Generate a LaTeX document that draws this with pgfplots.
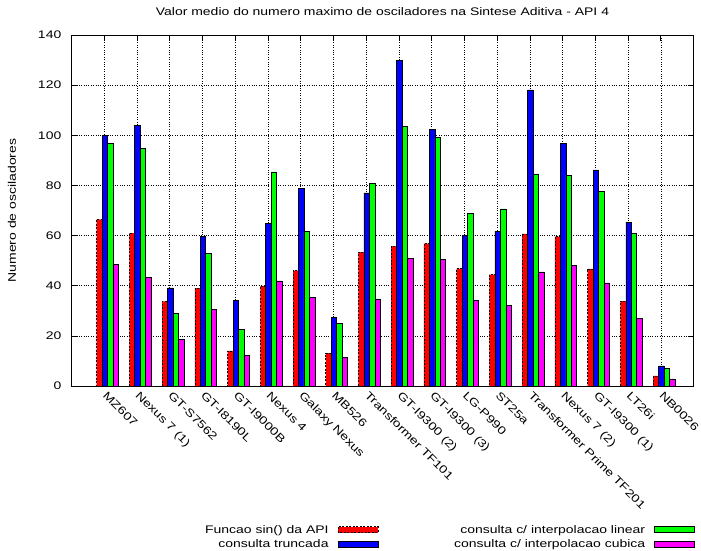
\documentclass[border=0pt]{standalone}
\usepackage{fontspec}
\setmainfont{Liberation Sans}[FakeStretch=1.27]
\usepackage{pgfplots}
\usepackage{pgfplotstable}
\pgfplotsset{compat=1.18}
\definecolor{gpred}{RGB}{255,0,0}
\definecolor{gpblue}{RGB}{0,0,255}
\definecolor{gpgreen}{RGB}{0,255,0}
\definecolor{gpmag}{RGB}{255,0,255}
\pgfplotstableread{
x api trunc lin cub
0 66.5 100.0 96.9 48.4
1 61.0 103.8 94.8 43.4
2 33.8 39.1 29.0 18.6
3 39.0 59.8 52.9 30.6
4 14.0 34.3 22.7 12.2
5 39.9 65.0 85.4 41.9
6 46.0 78.8 61.7 35.5
7 13.1 27.5 25.0 11.3
8 53.4 77.0 80.8 34.4
9 55.8 129.8 103.7 50.9
10 56.8 102.3 99.0 50.4
11 46.8 60.1 69.0 34.2
12 44.4 61.8 70.6 32.3
13 60.7 118.1 84.6 45.5
14 59.6 96.9 84.0 48.0
15 46.7 86.2 77.5 41.1
16 33.9 65.4 60.9 27.1
17 4.0 8.0 7.0 2.8
}\data
\begin{document}
\begin{tikzpicture}[font=\fontsize{11pt}{13pt}\selectfont]
\useasboundingbox (0,0) rectangle (701pt,550pt);
\begin{axis}[
  at={(71.5pt,164pt)}, anchor=south west,
  scale only axis, width=622pt, height=351pt,
  xmin=-1, xmax=18, ymin=0, ymax=140,
  ytick={0,20,...,140},
  xtick={0,...,17},
  xticklabels={MZ607,Nexus 7 (1),GT-S7562,GT-I8190L,GT-I9000B,Nexus 4,Galaxy Nexus,MB526,Transformer TF101,GT-I9300 (2),GT-I9300 (3),LG-P990,ST25a,Transformer Prime TF201,Nexus 7 (2),GT-I9300 (1),LT26i,NB0026},
  ybar, bar width=0.1667,
  grid=major, major grid style={black, dotted, line width=0.5pt},
  tick align=inside, major tick length=6pt,
  axis line style={black, line width=0.8pt},
  tick style={black, line width=0.6pt},
  /pgf/number format/assume math mode=true,
  yticklabel style={inner sep=0pt, xshift=-10pt},
  xticklabel style={yshift=-8pt, rotate=-45, anchor=west, inner sep=0pt, text height=8pt, text depth=2pt},
  title={Valor medio do numero maximo de osciladores na Sintese Aditiva - API 4},
  every axis title/.style={at={(axis description cs:0.5,1)}, anchor=base, yshift=19.7pt, inner sep=0pt},
  ylabel={Numero de osciladores},
  every axis y label/.style={at={(axis description cs:0,0.5)}, xshift=-59.5pt, rotate=90, anchor=center, inner sep=0pt},
  legend image code/.code={\draw[#1] (0pt,-3pt) rectangle (40pt,3pt);},
  legend columns=2, transpose legend,
  legend plot pos=right,
  legend cell align=right,
  legend style={at={(axis description cs:1.0024,-0.4658)}, anchor=south east, draw=none, fill=none,
    inner sep=0pt, row sep=3.8pt,
    nodes={inner xsep=0pt, inner ysep=0.5pt, text height=8.5pt, text depth=1pt},
    /tikz/every odd column/.append style={column sep=9pt},
    /tikz/every even column/.append style={column sep=76pt}},
]
\addplot[fill=gpred, draw=black, line width=0.6pt, dash pattern=on 2pt off 1.5pt, bar shift=-0.15] table[x=x,y=api]{\data};
\addplot[fill=gpblue, draw=black, line width=0.6pt, bar shift=0.0167] table[x=x,y=trunc]{\data};
\addplot[fill=gpgreen, draw=black, line width=0.6pt, bar shift=0.1833] table[x=x,y=lin]{\data};
\addplot[fill=gpmag, draw=black, line width=0.6pt, bar shift=0.35] table[x=x,y=cub]{\data};
\legend{Funcao sin() da API, consulta truncada, consulta c/ interpolacao linear, consulta c/ interpolacao cubica}
\end{axis}
\end{tikzpicture}
\end{document}
